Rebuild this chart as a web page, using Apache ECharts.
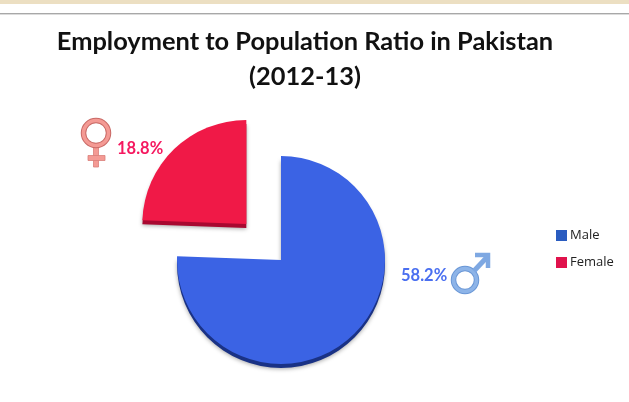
<!DOCTYPE html>
<html><head><meta charset="utf-8">
<style>html,body{margin:0;padding:0;background:#fff}#c{width:629px;height:402px}</style>
<script src="https://cdn.jsdelivr.net/npm/echarts@6/dist/echarts.min.js"></script>
</head><body><div id="c"></div>
<script>
const categories = ['Male', 'Female'];
const values = [58.2, 18.8];
const titleLines = ['Employment to Population Ratio in Pakistan', '(2012-13)'];
const faceColors = ['#3b63e4', '#f01947'];
const edgeColors = ['#1a3285', '#a80830'];
const swatchColors = ['#2a5cc0', '#e0124c'];
const labelColors = ['#4a6ff0', '#f5185f'];
const labelSpots = [{x: 401, y: 276}, {x: 117, y: 149}];

const chart = echarts.init(document.getElementById('c'), null, {renderer: 'canvas'});
const pieBase = {
  type: 'pie', radius: 104, startAngle: 90, clockwise: true,
  selectedMode: 'multiple', selectedOffset: 50, silent: true, animation: false,
  label: {show: false}, labelLine: {show: false}
};
chart.setOption({
  animation: false,
  backgroundColor: '#fff',
  title: {
    text: titleLines.join('\n'), left: 300, top: 19, textAlign: 'center',
    textStyle: {fontFamily: 'Lato', fontWeight: 'bold', fontSize: 25.4, lineHeight: 35, color: '#111'}
  },
  legend: {
    data: categories.map((name, i) => ({name, itemStyle: {color: swatchColors[i]}})),
    orient: 'vertical', left: 551, top: 224, itemWidth: 11, itemHeight: 11,
    itemGap: 14, icon: 'rect', selectedMode: false,
    textStyle: {fontFamily: 'Open Sans', fontSize: 13, color: '#222', padding: [0, 0, 0, -2]}
  },
  graphic: [
    {type: 'rect', shape: {x: 0, y: 0, width: 629, height: 4}, style: {fill: '#ecdfc2'}},
    {type: 'rect', shape: {x: 0, y: 13, width: 629, height: 1}, style: {fill: '#a8a8a8'}},
    {type: 'rect', shape: {x: 0, y: 14, width: 629, height: 1}, style: {fill: '#dcdcdc'}},
    {type: 'rect', z: 0, shape: {x: 93.5, y: 146, width: 5, height: 21}, style: {fill: '#f49a94', stroke: '#d97f7a', lineWidth: 0.8}},
    {type: 'rect', z: 0, shape: {x: 88, y: 155.5, width: 17, height: 5}, style: {fill: '#f49a94', stroke: '#d97f7a', lineWidth: 0.8}},
    {type: 'circle', shape: {cx: 96, cy: 133, r: 12.5}, style: {fill: 'none', stroke: '#c96a66', lineWidth: 5.5}},
    {type: 'circle', shape: {cx: 96, cy: 133, r: 12.5}, style: {fill: 'none', stroke: '#f49a94', lineWidth: 3.5}},
    {type: 'circle', shape: {cx: 465, cy: 280, r: 11.5}, style: {fill: 'none', stroke: '#6a97d6', lineWidth: 5.5}},
    {type: 'circle', shape: {cx: 465, cy: 280, r: 11.5}, style: {fill: 'none', stroke: '#8db4e8', lineWidth: 3.5}},
    {type: 'polyline', shape: {points: [[474, 271], [488, 256]]}, style: {fill: 'none', stroke: '#7ea8e2', lineWidth: 5}},
    {type: 'polyline', shape: {points: [[475, 255], [488, 255], [488, 268]]}, style: {fill: 'none', stroke: '#7ea8e2', lineWidth: 4.5}},
    ...categories.map((name, i) => ({
      type: 'text', x: labelSpots[i].x, y: labelSpots[i].y,
      style: {
        text: values[i].toFixed(1) + '%', fill: labelColors[i], align: 'left', verticalAlign: 'middle',
        font: 'bold 16.5px Lato'
      }
    }))
  ],
  series: [
    Object.assign({}, pieBase, {
      center: [281, 260], z: 3,
      data: categories.map((name, i) => ({
        name, value: values[i], selected: i === 1,
        itemStyle: {color: faceColors[i]}
      }))
    }),
    Object.assign({}, pieBase, {
      center: [281, 264], z: 2,
      data: categories.map((name, i) => ({
        name, value: values[i], selected: i === 1,
        itemStyle: {color: edgeColors[i], shadowBlur: 4, shadowColor: 'rgba(0,0,0,0.35)', shadowOffsetY: 1}
      }))
    })
  ]
});
</script></body></html>
